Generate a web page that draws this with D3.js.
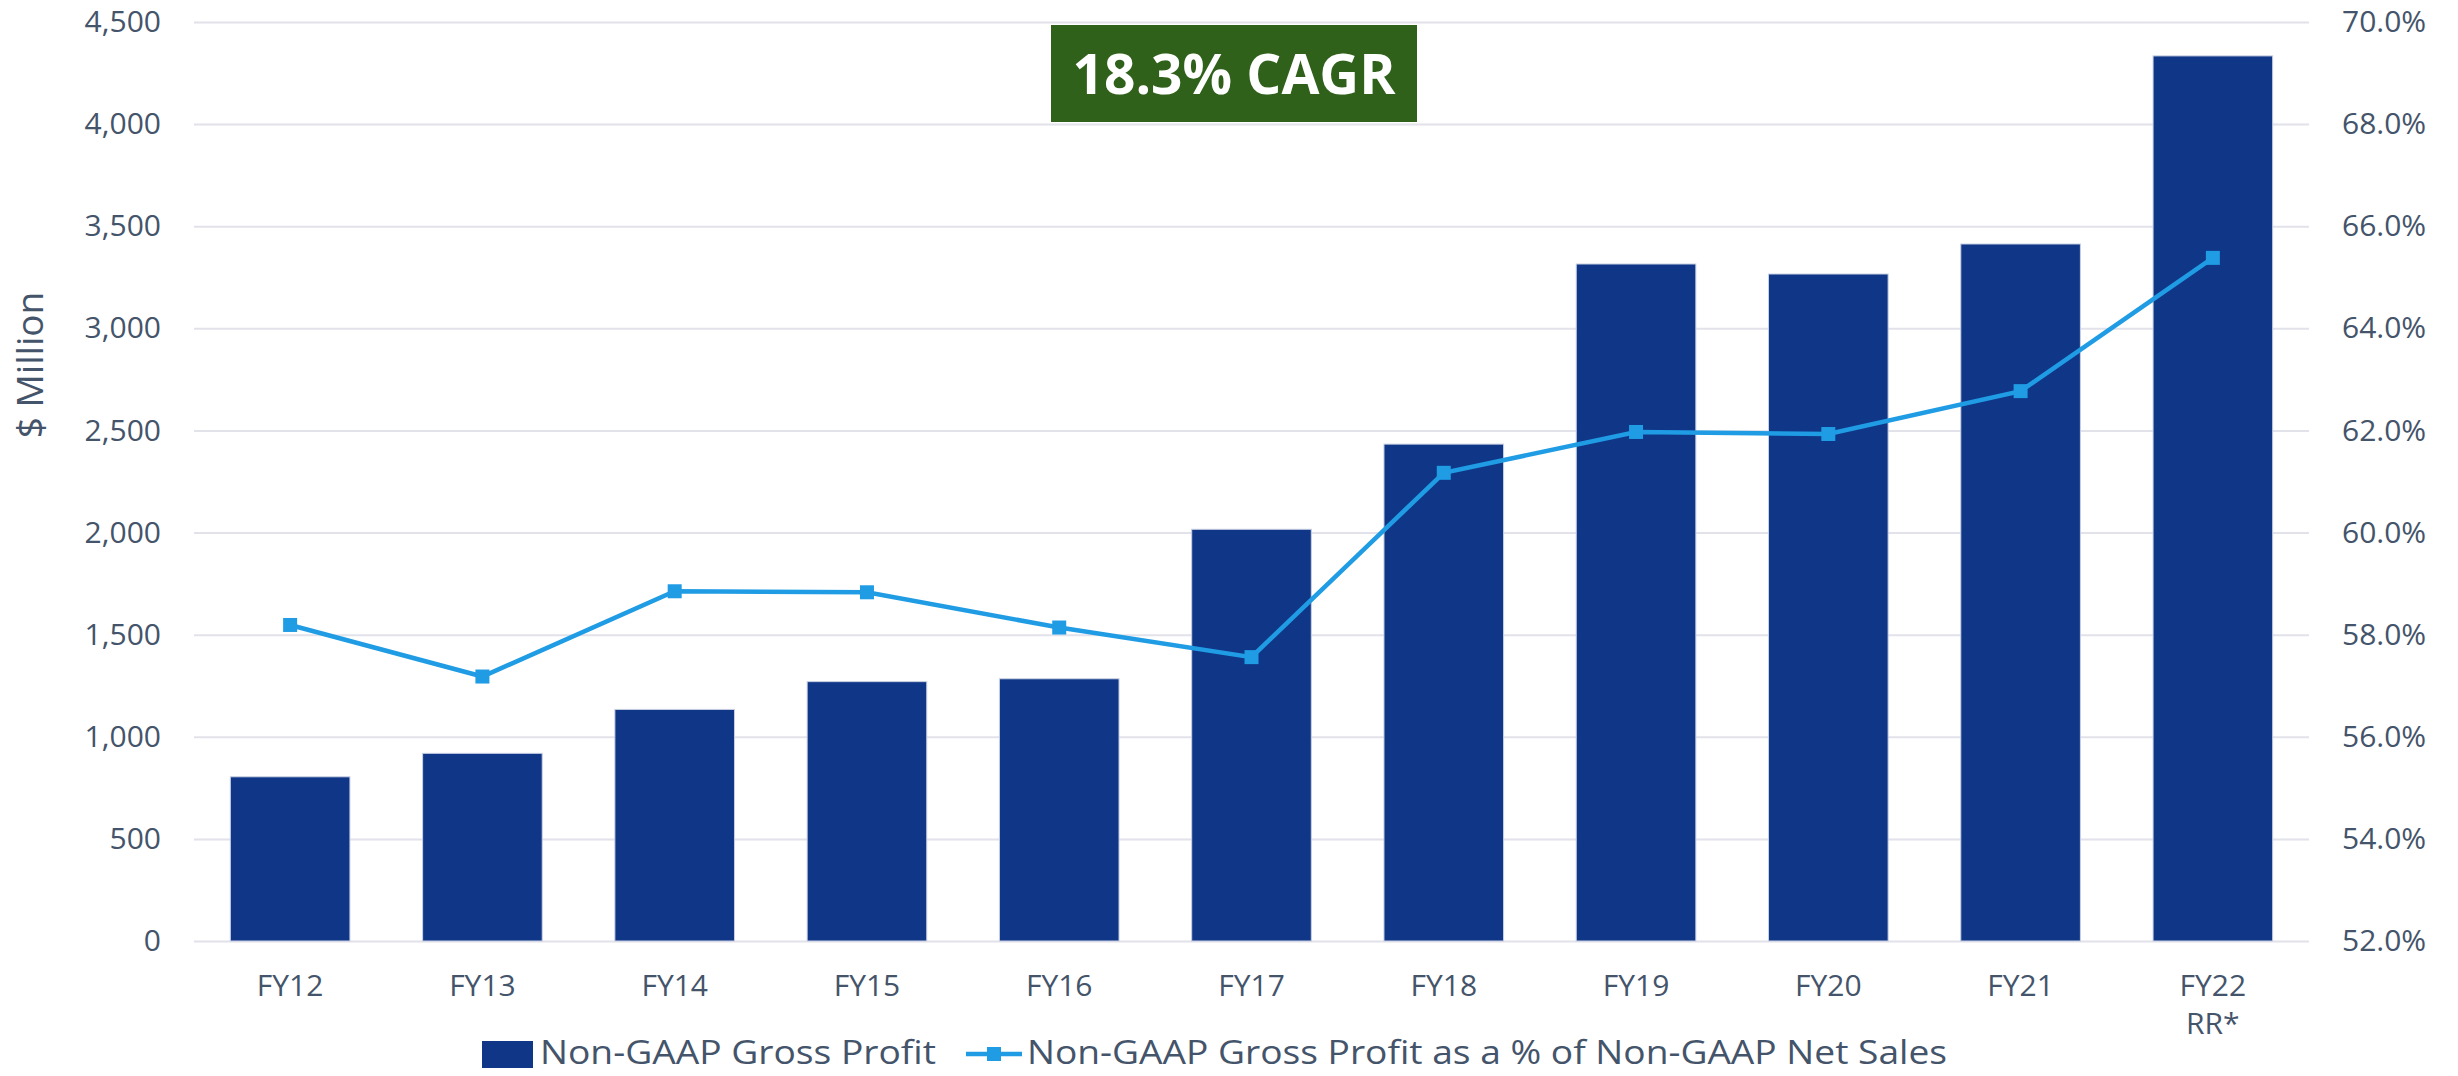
<!DOCTYPE html>
<html>
<head>
<meta charset="utf-8">
<script src="https://cdn.jsdelivr.net/npm/d3@7"></script>
<style>
  body { margin: 0; background: #fff; }
  text { font-family: "Open Sans", sans-serif; }
</style>
</head>
<body>
<div id="chart"></div>
<script>
// data
const categories = ["FY12", "FY13", "FY14", "FY15", "FY16", "FY17", "FY18", "FY19", "FY20", "FY21", "FY22 RR*"]
const grossProfit = [804, 919, 1134, 1270, 1284, 2016, 2433, 3315, 3266, 3413, 4334]
const grossMarginPct = [58.19, 57.18, 58.85, 58.83, 58.14, 57.56, 61.17, 61.97, 61.93, 62.77, 65.38]
const leftTicks = [0, 500, 1000, 1500, 2000, 2500, 3000, 3500, 4000, 4500]
const rightTicks = [52, 54, 56, 58, 60, 62, 64, 66, 68, 70]
const seriesNames = ["Non-GAAP Gross Profit", "Non-GAAP Gross Profit as a % of Non-GAAP Net Sales"]
const cagrLabel = "18.3% CAGR"

const textColor = "#44546a"
const barColor = "#0f3687"
const lineColor = "#1f9ce4"
const gridColor = "#e2e2ea"

// set the dimensions and margins of the graph
const W = 2458, H = 1076
const margin = {top: 22, right: 149, bottom: 135, left: 194},
  width = W - margin.left - margin.right,
  height = H - margin.top - margin.bottom

const root = d3.select("#chart")
  .append("svg")
    .attr("width", W)
    .attr("height", H)

const svg = root.append("g")
  .attr("transform", `translate(${margin.left},${margin.top})`)

// scales
const x = d3.scaleBand()
  .domain(categories)
  .range([0, width])
  .paddingInner(0.378)
  .paddingOuter(0.189)

const y = d3.scaleLinear()
  .domain([0, 4500])
  .range([height, 0])

const y2 = d3.scaleLinear()
  .domain([52, 70])
  .range([height, 0])

// left axis + gridlines
const gLeft = svg.append("g")
  .call(d3.axisLeft(y)
    .tickValues(leftTicks)
    .tickFormat(d3.format(","))
    .tickSizeInner(-width)
    .tickSizeOuter(0)
    .tickPadding(33))
gLeft.select(".domain").remove()
gLeft.selectAll(".tick line")
  .attr("stroke", gridColor)
  .attr("stroke-width", 2)
gLeft.selectAll(".tick text")
  .attr("fill", textColor)
  .style("font-size", "30px")

// right axis
const gRight = svg.append("g")
  .attr("transform", `translate(${width},0)`)
  .call(d3.axisRight(y2)
    .tickValues(rightTicks)
    .tickFormat(d => d.toFixed(1) + "%")
    .tickSize(0)
    .tickPadding(33))
gRight.select(".domain").remove()
gRight.selectAll(".tick text")
  .attr("fill", textColor)
  .style("font-size", "30px")

// bottom axis (labels only)
const gBottom = svg.append("g")
  .attr("transform", `translate(0,${height})`)
  .call(d3.axisBottom(x).tickSize(0).tickPadding(0))
gBottom.select(".domain").remove()
gBottom.selectAll(".tick text").each(function(d) {
  const t = d3.select(this)
  const parts = d.split(" ")
  t.text(null)
    .attr("fill", textColor)
    .attr("y", 55)
    .attr("dy", null)
    .style("font-size", "30px")
  parts.forEach((p, i) => {
    t.append("tspan")
      .attr("x", 0)
      .attr("dy", i === 0 ? 0 : 38)
      .text(p)
  })
})

// bars
svg.selectAll(".bar")
  .data(categories)
  .enter()
  .append("rect")
    .attr("class", "bar")
    .attr("x", d => x(d))
    .attr("y", (d, i) => y(grossProfit[i]))
    .attr("width", x.bandwidth())
    .attr("height", (d, i) => height - y(grossProfit[i]))
    .attr("fill", barColor)
    .attr("stroke", "#c9d0e3")
    .attr("stroke-width", 1)

// line
const line = d3.line()
  .x((d, i) => x(categories[i]) + x.bandwidth() / 2)
  .y(d => y2(d))

svg.append("path")
  .datum(grossMarginPct)
  .attr("fill", "none")
  .attr("stroke", lineColor)
  .attr("stroke-width", 4.5)
  .attr("d", line)

const mk = 14
svg.selectAll(".marker")
  .data(grossMarginPct)
  .enter()
  .append("rect")
    .attr("class", "marker")
    .attr("x", (d, i) => x(categories[i]) + x.bandwidth() / 2 - mk / 2)
    .attr("y", d => y2(d) - mk / 2)
    .attr("width", mk)
    .attr("height", mk)
    .attr("fill", lineColor)

// y axis title
root.append("text")
  .attr("transform", "translate(30,365) rotate(-90)")
  .attr("text-anchor", "middle")
  .attr("dy", "0.35em")
  .attr("fill", textColor)
  .style("font-size", "37px")
  .text("$ Million")

// CAGR box
const cagr = root.append("g").attr("transform", "translate(1051,25)")
cagr.append("rect")
  .attr("width", 366)
  .attr("height", 97)
  .attr("fill", "#30611b")
cagr.append("text")
  .attr("x", 183)
  .attr("y", 49)
  .attr("dy", "0.36em")
  .attr("text-anchor", "middle")
  .attr("fill", "#fff")
  .style("font-size", "55px")
  .style("font-weight", "bold")
  .text(cagrLabel)

// legend
const legend = root.append("g").attr("transform", "translate(0,1053)")
legend.append("rect")
  .attr("x", 482)
  .attr("y", -12)
  .attr("width", 51)
  .attr("height", 27)
  .attr("fill", barColor)
legend.append("text")
  .attr("x", 540)
  .attr("dy", "0.35em")
  .attr("fill", textColor)
  .attr("textLength", 396)
  .attr("lengthAdjust", "spacingAndGlyphs")
  .style("font-size", "32px")
  .text(seriesNames[0])
legend.append("line")
  .attr("x1", 966).attr("x2", 1022)
  .attr("y1", 1).attr("y2", 1)
  .attr("stroke", lineColor)
  .attr("stroke-width", 4.5)
legend.append("rect")
  .attr("x", 994 - mk / 2)
  .attr("y", 1 - mk / 2)
  .attr("width", mk)
  .attr("height", mk)
  .attr("fill", lineColor)
legend.append("text")
  .attr("x", 1027)
  .attr("dy", "0.35em")
  .attr("fill", textColor)
  .attr("textLength", 920)
  .attr("lengthAdjust", "spacingAndGlyphs")
  .style("font-size", "32px")
  .text(seriesNames[1])
</script>
</body>
</html>
